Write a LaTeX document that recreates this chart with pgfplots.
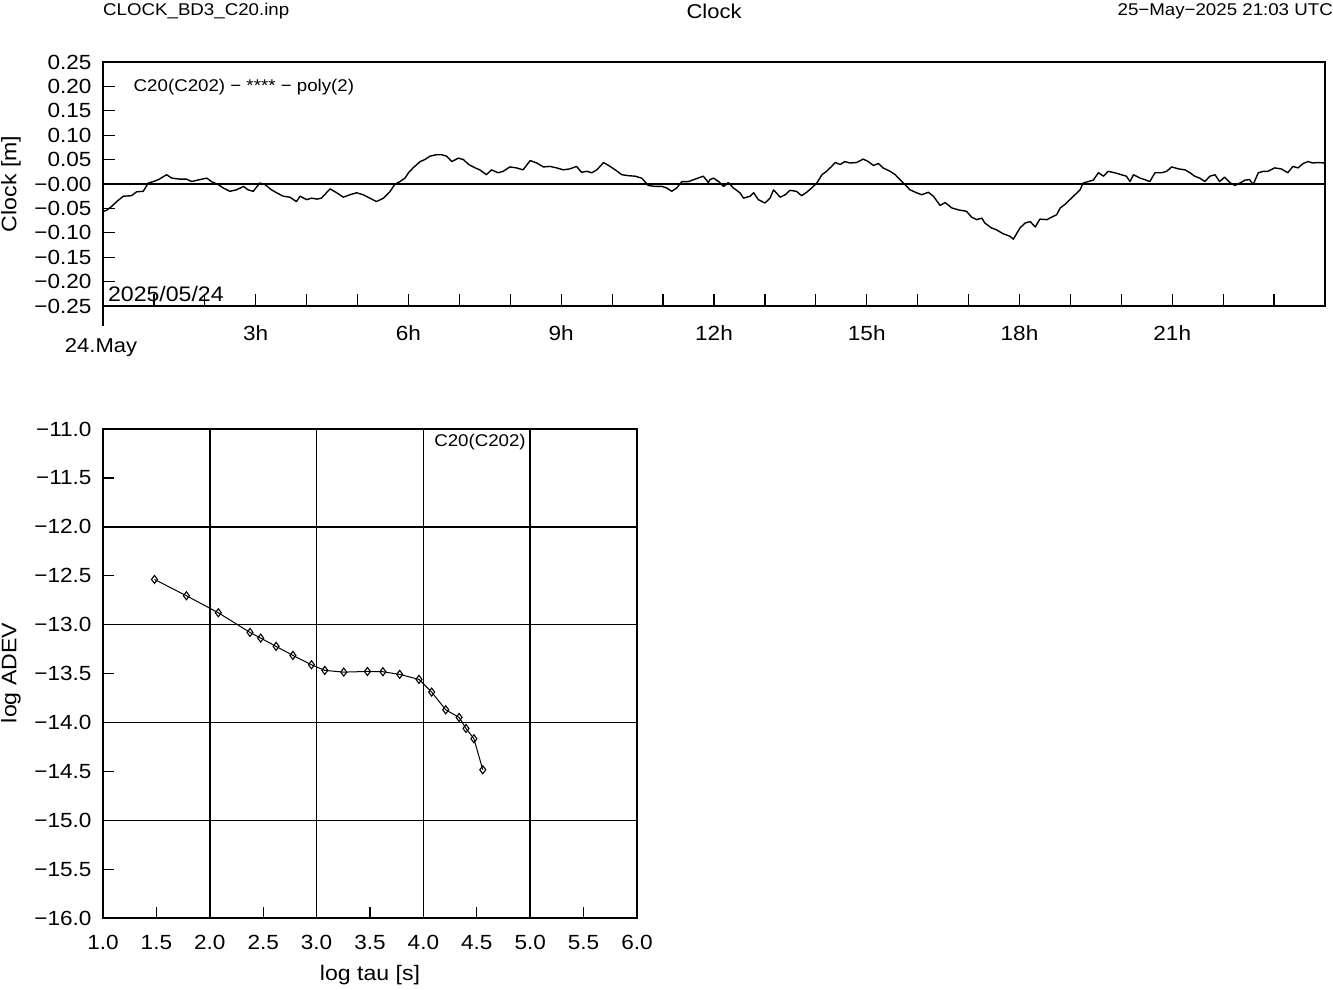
\documentclass[border=0pt]{standalone}
\usepackage{fontspec}
\setmainfont{Liberation Sans}[FakeStretch=1.1]
\usepackage{pgfplots}
\pgfplotsset{compat=1.18}
\pgfplotstableread{
h v
0.00 -0.056
0.07 -0.054
0.17 -0.046
0.27 -0.036
0.40 -0.025
0.56 -0.024
0.66 -0.016
0.79 -0.015
0.89 0.002
0.99 0.005
1.09 0.009
1.25 0.019
1.35 0.012
1.51 0.010
1.64 0.010
1.74 0.005
1.90 0.009
2.04 0.012
2.13 0.005
2.26 -0.001
2.36 -0.008
2.49 -0.015
2.62 -0.012
2.76 -0.005
2.85 -0.012
2.95 -0.015
3.08 0.002
3.18 -0.001
3.31 -0.012
3.41 -0.018
3.54 -0.025
3.67 -0.027
3.80 -0.036
3.87 -0.025
4.00 -0.032
4.10 -0.029
4.20 -0.031
4.29 -0.029
4.46 -0.010
4.59 -0.018
4.72 -0.027
4.85 -0.022
4.98 -0.018
5.11 -0.022
5.24 -0.029
5.37 -0.036
5.51 -0.029
5.64 -0.015
5.73 -0.001
5.83 0.005
5.93 0.012
6.00 0.023
6.09 0.033
6.23 0.046
6.32 0.050
6.42 0.057
6.55 0.060
6.65 0.060
6.75 0.057
6.85 0.046
6.98 0.053
7.08 0.050
7.18 0.040
7.31 0.033
7.40 0.029
7.53 0.019
7.63 0.029
7.76 0.023
7.86 0.026
7.99 0.035
8.12 0.033
8.25 0.029
8.39 0.048
8.52 0.043
8.65 0.035
8.78 0.036
8.91 0.033
9.04 0.029
9.17 0.031
9.30 0.036
9.40 0.024
9.50 0.026
9.60 0.023
9.70 0.029
9.83 0.044
9.93 0.038
10.06 0.029
10.19 0.019
10.32 0.017
10.45 0.016
10.58 0.012
10.71 -0.003
10.84 -0.005
10.98 -0.005
11.07 -0.008
11.17 -0.015
11.27 -0.008
11.37 0.005
11.50 0.005
11.63 0.010
11.79 0.016
11.89 0.003
11.92 0.009
11.99 0.012
12.09 0.005
12.19 -0.005
12.28 0.003
12.38 -0.008
12.51 -0.018
12.58 -0.029
12.71 -0.025
12.78 -0.018
12.87 -0.032
13.00 -0.039
13.10 -0.029
13.17 -0.012
13.30 -0.027
13.40 -0.022
13.49 -0.013
13.62 -0.015
13.72 -0.024
13.82 -0.017
13.92 -0.008
14.02 0.002
14.12 0.019
14.21 0.026
14.31 0.036
14.38 0.044
14.48 0.040
14.57 0.046
14.67 0.043
14.80 0.044
14.93 0.051
15.03 0.046
15.13 0.038
15.23 0.042
15.32 0.033
15.46 0.026
15.56 0.019
15.66 0.008
15.75 -0.001
15.85 -0.012
15.98 -0.018
16.08 -0.022
16.21 -0.017
16.31 -0.025
16.44 -0.044
16.54 -0.038
16.67 -0.049
16.80 -0.053
16.96 -0.056
17.06 -0.068
17.16 -0.073
17.26 -0.070
17.32 -0.080
17.45 -0.090
17.55 -0.094
17.68 -0.102
17.81 -0.107
17.88 -0.113
18.01 -0.090
18.11 -0.080
18.21 -0.077
18.31 -0.088
18.40 -0.072
18.54 -0.073
18.63 -0.068
18.73 -0.063
18.80 -0.049
18.89 -0.042
18.99 -0.032
19.09 -0.022
19.19 -0.012
19.25 0.002
19.35 0.005
19.45 0.008
19.55 0.023
19.65 0.016
19.74 0.026
19.87 0.023
20.00 0.019
20.10 0.016
20.17 0.005
20.24 0.019
20.37 0.012
20.46 0.009
20.56 0.005
20.66 0.023
20.79 0.023
20.89 0.026
20.99 0.035
21.12 0.031
21.25 0.029
21.35 0.023
21.44 0.016
21.54 0.012
21.64 0.005
21.74 0.016
21.84 0.019
21.93 0.005
22.03 0.014
22.13 0.003
22.23 -0.003
22.33 0.002
22.43 0.008
22.52 0.009
22.59 -0.001
22.69 0.023
22.79 0.026
22.88 0.026
23.01 0.033
23.14 0.031
23.27 0.023
23.37 0.036
23.47 0.033
23.57 0.042
23.67 0.046
23.76 0.043
23.86 0.044
24.00 0.043
}\clockdata
\pgfplotstableread{
t a
1.482 -12.538
1.781 -12.705
2.080 -12.879
2.376 -13.080
2.476 -13.138
2.621 -13.223
2.778 -13.315
2.952 -13.411
3.077 -13.468
3.254 -13.486
3.476 -13.479
3.621 -13.482
3.778 -13.509
3.958 -13.560
4.077 -13.690
4.209 -13.871
4.334 -13.949
4.399 -14.062
4.473 -14.167
4.556 -14.484
}\adevdata
\begin{document}
\begin{tikzpicture}[x=1pt,y=1pt]
\path[use as bounding box] (0,0) rectangle (1333,989);
\node[anchor=west,font=\fontsize{17}{19}\selectfont,inner sep=0pt] at (103,978) {CLOCK\_BD3\_C20.inp};
\node[font=\fontsize{20}{22}\selectfont,inner sep=0pt] at (714,978) {Clock};
\node[anchor=east,font=\fontsize{17}{19}\selectfont,inner sep=0pt] at (1333,978) {25−May−2025 21:03 UTC};

\begin{axis}[
  at={(103pt,683pt)}, anchor=south west,
  scale only axis, width=1222pt, height=244pt,
  xmin=0, xmax=24, ymin=-0.25, ymax=0.25,
  axis line style={line width=1.4pt},
  tick style={line width=1.2pt, black},
  major tick length=12pt,
  xtick pos=bottom, ytick pos=left, tick align=inside,
  xtick={0,1,...,24},
  xticklabels={,,,3h,,,6h,,,9h,,,12h,,,15h,,,18h,,,21h,,,},
  ytick={-0.25,-0.20,-0.15,-0.10,-0.05,0,0.05,0.10,0.15,0.20,0.25},
  yticklabels={−0.25,−0.20,−0.15,−0.10,−0.05,−0.00,0.05,0.10,0.15,0.20,0.25},
  ticklabel style={font=\fontsize{20.5}{22}\selectfont},
  xticklabel style={yshift=-16pt},
  yticklabel style={xshift=-8pt},
  /pgf/number format/assume math mode=true,
  clip=true,
]
\addplot[black, line width=2pt] coordinates {(0,0) (24,0)};
\addplot[black, line width=1.4pt, line join=round] table[x=h,y=v] {\clockdata};
\node[anchor=west,font=\fontsize{17}{19}\selectfont,inner sep=0pt] at (rel axis cs:0.025,0.899) {C20(C202) − **** − poly(2)};
\node[anchor=south west,font=\fontsize{21}{23}\selectfont,inner sep=0pt] at (rel axis cs:0.004,0.018) {2025/05/24};
\end{axis}
\draw[line width=1.4pt] (103,683) -- (103,663);
\node[anchor=north,font=\fontsize{20}{22}\selectfont,inner sep=0pt] at (101,651) {24.May};
\node[rotate=90,font=\fontsize{21}{23}\selectfont,inner sep=0pt] at (11,805) {Clock [m]};

\begin{axis}[
  at={(103pt,71pt)}, anchor=south west,
  scale only axis, width=534pt, height=489pt,
  xmin=1, xmax=6, ymin=-16, ymax=-11,
  axis line style={line width=1.4pt},
  tick style={line width=1.2pt, black},
  major tick length=11pt,
  xtick pos=bottom, ytick pos=left, tick align=inside,
  xtick={1,1.5,...,6},
  xticklabels={1.0,1.5,2.0,2.5,3.0,3.5,4.0,4.5,5.0,5.5,6.0},
  ytick={-16,-15.5,...,-11},
  yticklabels={−16.0,−15.5,−15.0,−14.5,−14.0,−13.5,−13.0,−12.5,−12.0,−11.5,−11.0},
  extra x ticks={2,3,4,5}, extra x tick labels={},
  extra x tick style={grid=major, major grid style={line width=1.6pt, black}},
  extra y ticks={-13,-12}, extra y tick labels={},
  extra y tick style={grid=major, major grid style={line width=1.6pt, black}},
  minor ytick={-15,-14},
  minor grid style={line width=0.9pt, black},
  yminorgrids=true,
  minor tick length=0pt,
  ticklabel style={font=\fontsize{20.5}{22}\selectfont},
  xticklabel style={yshift=-14pt},
  yticklabel style={xshift=-8pt},
  /pgf/number format/assume math mode=true,
]
\addplot[black, line width=1pt, mark=diamond, mark size=4pt, mark options={fill=white, line width=1.1pt}] table[x=t,y=a] {\adevdata};
\node[anchor=north,font=\fontsize{17}{19}\selectfont,inner sep=0pt] at (axis cs:4.53,-11.05) {C20(C202)};
\end{axis}
\node[font=\fontsize{21}{23}\selectfont,inner sep=0pt] at (370,14) {log tau [s]};
\node[rotate=90,font=\fontsize{21}{23}\selectfont,inner sep=0pt] at (11,316) {log ADEV};
\end{tikzpicture}
\end{document}
